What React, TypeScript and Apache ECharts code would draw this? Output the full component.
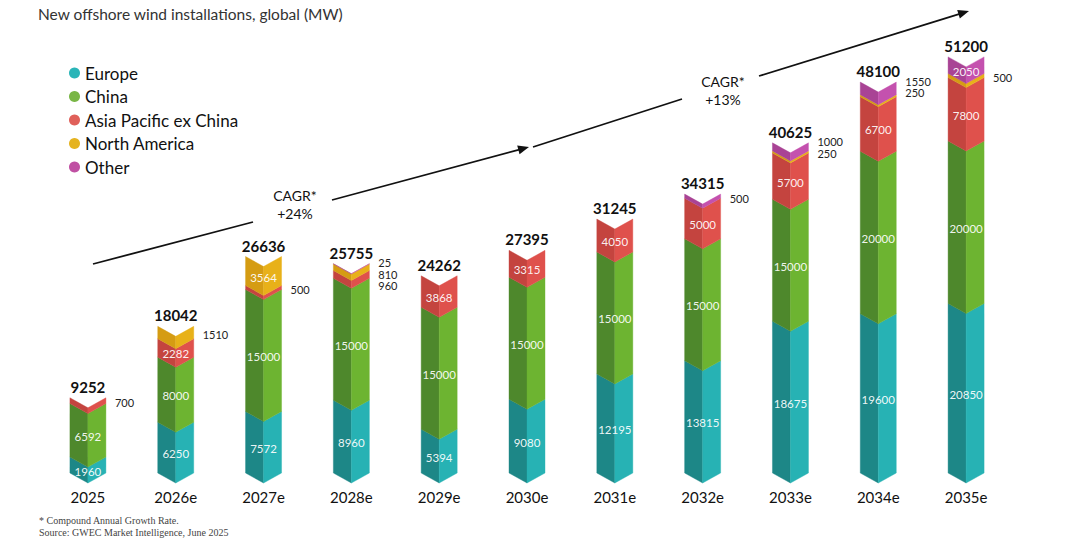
import React, { useEffect, useRef } from "react";
import * as echarts from "echarts";

// New offshore wind installations by region (MW)
const categories = ["2025", "2026e", "2027e", "2028e", "2029e", "2030e", "2031e", "2032e", "2033e", "2034e", "2035e"];
const europe = [1960, 6250, 7572, 8960, 5394, 9080, 12195, 13815, 18675, 19600, 20850];
const china = [6592, 8000, 15000, 15000, 15000, 15000, 15000, 15000, 15000, 20000, 20000];
const asiaPacific = [700, 2282, 500, 960, 3868, 3315, 4050, 5000, 5700, 6700, 7800];
const northAmerica = [0, 1510, 3564, 810, 0, 0, 0, 0, 250, 250, 500];
const other = [0, 0, 0, 25, 0, 0, 0, 500, 1000, 1550, 2050];

const regionNames = ["Europe", "China", "Asia Pacific ex China", "North America", "Other"];
const regionValues = [europe, china, asiaPacific, northAmerica, other];

// light face / shaded face / legend dot
const faceColors = ["#27b2b4", "#6db431", "#df514c", "#e8b119", "#c451ae"];
const shadeColors = ["#1d8787", "#4e882c", "#c4443f", "#d59c13", "#a94395"];
const dotColors = ["#2ab5b8", "#79b646", "#e0605a", "#e5b320", "#c050a3"];

const FONT = "Lato, 'Noto Sans', sans-serif";
const HALF_W = 18; // half bar width in px
const NOTCH = 10; // depth of the chevron at every boundary
const INSIDE_MIN = 1900; // smaller segments get their label beside the bar

// cumulative stack bases
const bases: number[][] = regionValues.map((_, k) =>
  categories.map((__, i) => {
    let s = 0;
    for (let j = 0; j < k; j++) s += regionValues[j][i];
    return s;
  })
);
const totals = categories.map((_, i) => regionValues.reduce((s, arr) => s + arr[i], 0));

function arrowHead(x1: number, y1: number, x2: number, y2: number, len = 11, half = 4.5) {
  const dx = x2 - x1, dy = y2 - y1;
  const l = Math.sqrt(dx * dx + dy * dy);
  const ux = dx / l, uy = dy / l;
  const bx = x2 - ux * len, by = y2 - uy * len;
  return [
    [x2, y2],
    [bx - uy * half, by + ux * half],
    [bx + uy * half, by - ux * half],
  ];
}

function trendGraphics() {
  const stroke = { stroke: "#111", lineWidth: 1.8 };
  const segs = [
    [93, 264, 253, 222, false],
    [332, 200, 529, 147, true],
    [533, 147, 682, 99, false],
    [759, 76, 969, 11, true],
  ] as [number, number, number, number, boolean][];
  const out: any[] = [];
  segs.forEach(([x1, y1, x2, y2, arrow]) => {
    let ex = x2, ey = y2;
    if (arrow) {
      const dx = x2 - x1, dy = y2 - y1;
      const l = Math.sqrt(dx * dx + dy * dy);
      ex = x2 - (dx / l) * 8;
      ey = y2 - (dy / l) * 8;
      out.push({ type: "polygon", shape: { points: arrowHead(x1, y1, x2, y2) }, style: { fill: "#111" } });
    }
    out.push({ type: "line", shape: { x1, y1, x2: ex, y2: ey }, style: stroke });
  });
  const cagr = (x: number, y: number, pct: string) => ({
    type: "text",
    x,
    y,
    style: {
      text: "CAGR*\n" + pct,
      font: `14px ${FONT}`,
      fill: "#111",
      align: "center",
      verticalAlign: "middle",
      lineHeight: 18,
    },
  });
  out.push(cagr(295, 204, "+24%"));
  out.push(cagr(723, 90, "+13%"));
  return out;
}

export default function App() {
  const ref = useRef<HTMLDivElement>(null);

  useEffect(() => {
    if (!ref.current) return;
    document.body.style.margin = "0";
    const chart = echarts.init(ref.current, null, { renderer: "svg" });

    const barSeries = regionNames.map((name, k) => ({
      name,
      type: "custom",
      coordinateSystem: "cartesian2d",
      itemStyle: { color: dotColors[k] },
      encode: { x: 0, y: [1, 2] },
      data: categories.map((_, i) => [i, bases[k][i], bases[k][i] + regionValues[k][i], regionValues[k][i]]),
      renderItem: (params: any, api: any) => {
        const i = api.value(0);
        const lo = api.value(1);
        const hi = api.value(2);
        const v = api.value(3);
        if (!(v > 0)) return { type: "group", children: [] };
        const pLo = api.coord([i, lo]);
        const pHi = api.coord([i, hi]);
        const cx = pLo[0];
        const yLo = pLo[1];
        const yHi = pHi[1];
        const children: any[] = [
          {
            type: "polygon",
            shape: { points: [[cx - HALF_W, yHi], [cx, yHi + NOTCH], [cx, yLo + NOTCH], [cx - HALF_W, yLo]] },
            style: { fill: shadeColors[k], stroke: shadeColors[k], lineWidth: 0.4 },
          },
          {
            type: "polygon",
            shape: { points: [[cx, yHi + NOTCH], [cx + HALF_W, yHi], [cx + HALF_W, yLo], [cx, yLo + NOTCH]] },
            style: { fill: faceColors[k], stroke: faceColors[k], lineWidth: 0.4 },
          },
        ];
        if (v >= INSIDE_MIN) {
          children.push({
            type: "text",
            x: cx,
            y: (yLo + yHi) / 2 + NOTCH / 2 + 1,
            style: {
              text: String(v),
              font: `11.5px ${FONT}`,
              fill: "rgba(255,255,255,0.93)",
              align: "center",
              verticalAlign: "middle",
            },
          });
        }
        return { type: "group", children };
      },
    }));

    const annotationSeries = {
      name: "labels",
      type: "custom",
      coordinateSystem: "cartesian2d",
      silent: true,
      encode: { x: 0, y: 1 },
      data: categories.map((_, i) => [i, totals[i]]),
      renderItem: (params: any, api: any) => {
        const i = api.value(0);
        const total = api.value(1);
        const pTop = api.coord([i, total]);
        const cx = pTop[0];
        const children: any[] = [
          {
            type: "text",
            x: cx,
            y: pTop[1] - 11,
            style: {
              text: String(total),
              font: `bold 15px ${FONT}`,
              fill: "#111",
              align: "center",
              verticalAlign: "middle",
            },
          },
        ];
        // small segments, listed from the top of the stack down
        const small: { v: number; y: number }[] = [];
        for (let k = regionValues.length - 1; k >= 0; k--) {
          const v = regionValues[k][i];
          if (v > 0 && v < INSIDE_MIN) {
            const mid = bases[k][i] + v / 2;
            small.push({ v, y: api.coord([i, mid])[1] + 2 });
          }
        }
        if (small.length > 1) {
          small.forEach((s, j) => (s.y = pTop[1] - 1 + j * 11.5));
        }
        small.forEach((s) =>
          children.push({
            type: "text",
            x: cx + HALF_W + 9,
            y: s.y,
            style: {
              text: String(s.v),
              font: `11px ${FONT}`,
              fill: "#222",
              align: "left",
              verticalAlign: "middle",
            },
          })
        );
        return { type: "group", children };
      },
    };

    chart.setOption({
      animation: false,
      backgroundColor: "#ffffff",
      title: {
        text: "New offshore wind installations, global (MW)",
        left: 33,
        top: 1,
        textStyle: { fontFamily: FONT, fontSize: 15.5, fontWeight: "normal", color: "#333" },
      },
      legend: {
        data: regionNames,
        orient: "vertical",
        left: 64,
        top: 58,
        icon: "circle",
        itemWidth: 11,
        itemHeight: 11,
        itemGap: 3.5,
        selectedMode: false,
        textStyle: { fontFamily: FONT, fontSize: 17, color: "#111", lineHeight: 20 },
      },
      grid: { left: 44, right: 70, top: 26, bottom: 72 },
      xAxis: {
        type: "category",
        data: categories,
        axisLine: { show: false },
        axisTick: { show: false },
        axisLabel: { fontFamily: FONT, fontSize: 15, color: "#111", margin: 16 },
      },
      yAxis: { type: "value", min: 0, max: 55000, show: false, splitLine: { show: false } },
      series: [...barSeries, annotationSeries],
      graphic: [
        ...trendGraphics(),
        {
          type: "text",
          left: 39,
          top: 514,
          style: {
            text: "* Compound Annual Growth Rate.\nSource: GWEC Market Intelligence, June 2025",
            font: "10px 'Liberation Serif', serif",
            fill: "#444",
            lineHeight: 12,
          },
        },
      ],
    });

    return () => chart.dispose();
  }, []);

  return <div ref={ref} style={{ position: "fixed", left: 0, top: 0, width: 1080, height: 545 }} />;
}
